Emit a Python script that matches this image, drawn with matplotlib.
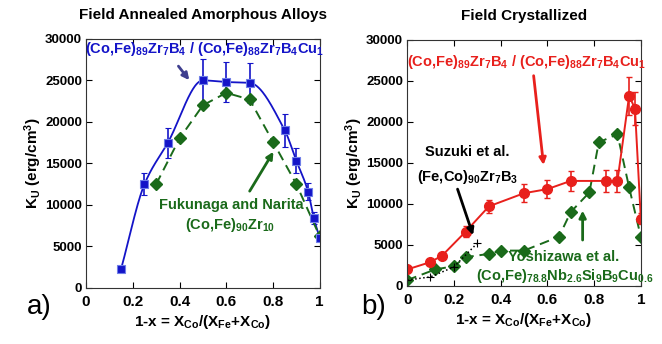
import numpy as np
import matplotlib
matplotlib.use('Agg')
import matplotlib.pyplot as plt

plt.rcParams['font.family'] = ['Liberation Sans', 'DejaVu Sans']
plt.rcParams['font.weight'] = 'bold'
plt.rcParams['mathtext.default'] = 'regular'

BLUE = '#1414c8'
GREEN = '#1a6a1a'
RED = '#e8201c'

# (a) field annealed amorphous
xa_blue = [0.15, 0.25, 0.35, 0.5, 0.6, 0.7, 0.85, 0.9, 0.95, 0.975, 1.0]
ya_blue = [2300, 12500, 17500, 25000, 24800, 24700, 19000, 15300, 11600, 8400, 6000]
ea_blue = [0, 1300, 1800, 2600, 2400, 2400, 2000, 1500, 1000, 700, 300]

xa_green = [0.3, 0.4, 0.5, 0.6, 0.7, 0.8, 0.9, 1.0]
ya_green = [12500, 18000, 22000, 23500, 22700, 17600, 12500, 6200]

# (b) field crystallized
xb_red = [0.0, 0.1, 0.15, 0.25, 0.35, 0.5, 0.6, 0.7, 0.85, 0.9, 0.95, 0.975, 1.0]
yb_red = [2000, 2900, 3700, 6600, 9700, 11300, 11800, 12800, 12800, 12800, 23200, 21600, 8200]
eb_red = [300, 300, 300, 700, 800, 1100, 1100, 1200, 1300, 1300, 2300, 2000, 700]

xb_green = [0.0, 0.12, 0.2, 0.25, 0.35, 0.4, 0.5, 0.65, 0.7, 0.78, 0.82, 0.9, 0.95, 1.0]
yb_green = [700, 2000, 2400, 3500, 3900, 4300, 4300, 6000, 9000, 11400, 17500, 18500, 12000, 6000]

xb_black = [0.0, 0.1, 0.2, 0.3]
yb_black = [700, 1100, 2300, 5200]


def pchip(x, y, n=300):
    # monotone cubic through the points, for the smooth fitted curve
    x = np.asarray(x, float)
    y = np.asarray(y, float)
    h = np.diff(x)
    d = np.diff(y) / h
    m = np.zeros_like(y)
    for k in range(1, len(x) - 1):
        if d[k - 1] * d[k] > 0:
            w1 = 2 * h[k] + h[k - 1]
            w2 = h[k] + 2 * h[k - 1]
            m[k] = (w1 + w2) / (w1 / d[k - 1] + w2 / d[k])
    m[0] = d[0]
    m[-1] = d[-1]
    xs = np.linspace(x[0], x[-1], n)
    idx = np.clip(np.searchsorted(x, xs) - 1, 0, len(x) - 2)
    t = (xs - x[idx]) / h[idx]
    h00 = 2 * t**3 - 3 * t**2 + 1
    h10 = t**3 - 2 * t**2 + t
    h01 = -2 * t**3 + 3 * t**2
    h11 = t**3 - t**2
    ys = h00 * y[idx] + h10 * h[idx] * m[idx] + h01 * y[idx + 1] + h11 * h[idx] * m[idx + 1]
    return xs, ys


fig = plt.figure(figsize=(6.62, 3.44), dpi=100)
ax1 = fig.add_axes([0.130, 0.163, 0.353, 0.724])
ax2 = fig.add_axes([0.615, 0.169, 0.353, 0.715])

for ax in (ax1, ax2):
    ax.set_xlim(0, 1)
    ax.set_ylim(0, 30000)
    ax.set_xticks([0, 0.2, 0.4, 0.6, 0.8, 1])
    ax.set_xticklabels(['0', '0.2', '0.4', '0.6', '0.8', '1'])
    ax.set_yticks(range(0, 30001, 5000))
    ax.tick_params(direction='in', top=True, right=True, length=4,
                   labelsize=9.5, width=0.8, pad=3)
    for lab in ax.get_xticklabels() + ax.get_yticklabels():
        lab.set_fontweight('bold')
    ax.tick_params(axis='x', labelsize=11, pad=5)
    for s in ax.spines.values():
        s.set_linewidth(0.8)
        s.set_color('#333333')
    ax.set_xlabel('1-x = X$_{Co}$/(X$_{Fe}$+X$_{Co}$)', fontsize=11,
                  fontweight='bold', labelpad=3)
    ax.set_ylabel('K$_U$ (erg/cm$^3$)', fontsize=11, fontweight='bold',
                  labelpad=1)

FS = 10.5

# panel a
xs, ys = pchip(xa_blue, ya_blue)
ax1.plot(xs, ys, color=BLUE, lw=1.3)
ax1.errorbar(xa_blue, ya_blue, yerr=ea_blue, fmt='s', color=BLUE, ms=5.5,
             mfc=BLUE, mec='#6f7fe8', mew=0.8, capsize=2.5, elinewidth=1.2)
ax1.plot(xa_green, ya_green, '--D', color=GREEN, lw=1.4, ms=6,
         dashes=(5, 3))
ax1.set_title('Field Annealed Amorphous Alloys', fontsize=11,
              fontweight='bold', pad=14)

ax1.text(0.506, 28800,
         '(Co,Fe)$_{89}$Zr$_7$B$_4$ / (Co,Fe)$_{88}$Zr$_7$B$_4$Cu$_1$',
         color=BLUE, fontsize=FS, fontweight='bold', ha='center',
         va='center', clip_on=False)
ax1.annotate('', xy=(0.449, 24760), xytext=(0.388, 26980),
             arrowprops=dict(arrowstyle='-|>', color='#3f3f8f', lw=2,
                             mutation_scale=10))
ax1.text(0.62, 10040, 'Fukunaga and Narita', color=GREEN, fontsize=FS,
         fontweight='bold', ha='center', va='center')
ax1.text(0.614, 7620, '(Co,Fe)$_{90}$Zr$_{10}$', color=GREEN, fontsize=FS,
         fontweight='bold', ha='center', va='center')
ax1.annotate('', xy=(0.808, 16690), xytext=(0.694, 11370),
             arrowprops=dict(arrowstyle='-|>', color=GREEN, lw=2,
                             mutation_scale=10))

# panel b
ax2.errorbar(xb_red, yb_red, yerr=eb_red, fmt='-o', color=RED, ms=7,
             lw=1.4, capsize=2.5, elinewidth=1.2)
ax2.plot(xb_green, yb_green, '--D', color=GREEN, lw=1.4, ms=6,
         dashes=(5, 3))
ax2.plot(xb_black, yb_black, ':+', color='black', lw=1.1, ms=6, mew=0.8)
ax2.set_title('Field Crystallized', fontsize=11, fontweight='bold', pad=14)

ax2.text(0.511, 27350,
         '(Co,Fe)$_{89}$Zr$_7$B$_4$ / (Co,Fe)$_{88}$Zr$_7$B$_4$Cu$_1$',
         color=RED, fontsize=FS, fontweight='bold', ha='center',
         va='center', clip_on=False)
ax2.annotate('', xy=(0.585, 14410), xytext=(0.540, 25970),
             arrowprops=dict(arrowstyle='-|>', color=RED, lw=2,
                             mutation_scale=10))
ax2.text(0.259, 16280, 'Suzuki et al.', color='black', fontsize=FS,
         fontweight='bold', ha='center', va='center')
ax2.text(0.259, 13300, '(Fe,Co)$_{90}$Zr$_7$B$_3$', color='black',
         fontsize=FS, fontweight='bold', ha='center', va='center')
ax2.annotate('', xy=(0.286, 5860), xytext=(0.212, 12120),
             arrowprops=dict(arrowstyle='-|>', color='black', lw=2,
                             mutation_scale=10))
ax2.text(0.671, 3540, 'Yoshizawa et al.', color=GREEN, fontsize=FS,
         fontweight='bold', ha='center', va='center')
ax2.text(0.675, 1220,
         '(Co,Fe)$_{78.8}$Nb$_{2.6}$Si$_9$B$_9$Cu$_{0.6}$', color=GREEN,
         fontsize=FS, fontweight='bold', ha='center', va='center',
         clip_on=False)
ax2.annotate('', xy=(0.751, 9520), xytext=(0.751, 5250),
             arrowprops=dict(arrowstyle='-|>', color=GREEN, lw=2,
                             mutation_scale=10))

fig.text(0.040, 0.108, 'a)', fontsize=20, fontweight='normal', va='center')
fig.text(0.546, 0.108, 'b)', fontsize=20, fontweight='normal', va='center')

fig.savefig('out.png', dpi=100)
